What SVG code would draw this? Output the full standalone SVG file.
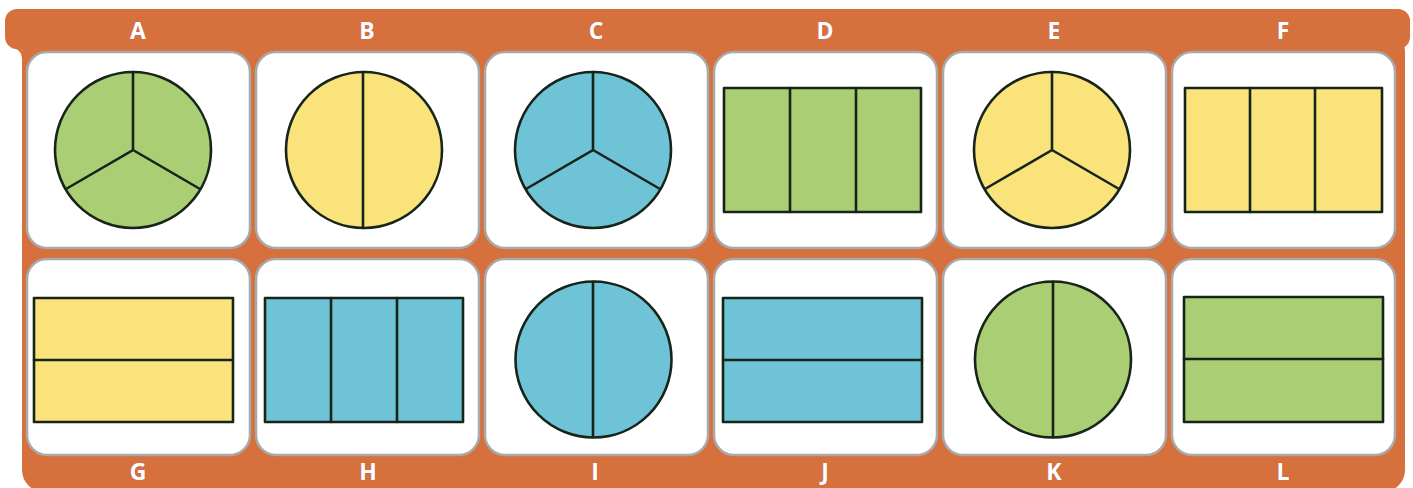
<svg xmlns="http://www.w3.org/2000/svg" width="1413" height="488" viewBox="0 0 1413 488">
<style>
.frame{fill:#D6703D}
.cell{fill:#ffffff;stroke:#a9a9a9;stroke-width:2.5}
.g{fill:#A9CE74}
.y{fill:#F9E37A}
.b{fill:#6FC3D7}
.sh{stroke:#17241a;stroke-width:2.6;stroke-linejoin:round}
.ln{stroke:#17241a;stroke-width:2.6;fill:none;stroke-linecap:round}
.lbl{font-family:"Open Sans","Liberation Sans",sans-serif;font-weight:bold;font-size:23px;fill:#ffffff;text-anchor:middle;stroke:#b06a7a;stroke-width:0.6;paint-order:stroke}
</style>
<rect width="1413" height="488" fill="#ffffff"/>
<g id="frame">
<rect class="frame" x="5" y="9" width="1405" height="40" rx="12"/>
<rect class="frame" x="22" y="30" width="1383" height="462" rx="22"/>
<path class="frame" d="M12,48 L22,48 L22,58 A10 10 0 0 0 12 48 Z"/>
</g>
<g id="A">
<rect class="cell" x="27" y="52" width="223" height="196" rx="20"/>
<circle class="g sh" cx="133" cy="150" r="78"/>
<path class="ln" d="M133,72 V150 L66,189 M133,150 L200,189"/>
<text class="lbl" x="138" y="39">A</text>
</g>
<g id="B">
<rect class="cell" x="256" y="52" width="223" height="196" rx="20"/>
<circle class="y sh" cx="364" cy="150" r="78"/>
<path class="ln" d="M363,72 V228"/>
<text class="lbl" x="367" y="39">B</text>
</g>
<g id="C">
<rect class="cell" x="485" y="52" width="223" height="196" rx="20"/>
<circle class="b sh" cx="593" cy="150" r="78"/>
<path class="ln" d="M593,72 V150 L526,189 M593,150 L660,189"/>
<text class="lbl" x="596" y="39">C</text>
</g>
<g id="D">
<rect class="cell" x="714" y="52" width="223" height="196" rx="20"/>
<rect class="g sh" x="724" y="88" width="197" height="124"/>
<path class="ln" d="M790,88 V212 M856,88 V212"/>
<text class="lbl" x="825" y="39">D</text>
</g>
<g id="E">
<rect class="cell" x="943" y="52" width="223" height="196" rx="20"/>
<circle class="y sh" cx="1052" cy="150" r="78"/>
<path class="ln" d="M1052,72 V150 L985,189 M1052,150 L1119,189"/>
<text class="lbl" x="1054" y="39">E</text>
</g>
<g id="F">
<rect class="cell" x="1172" y="52" width="223" height="196" rx="20"/>
<rect class="y sh" x="1185" y="88" width="197" height="124"/>
<path class="ln" d="M1250,88 V212 M1315,88 V212"/>
<text class="lbl" x="1283" y="39">F</text>
</g>
<g id="G">
<rect class="cell" x="27" y="259" width="223" height="196" rx="20"/>
<rect class="y sh" x="34" y="298" width="199" height="124"/>
<path class="ln" d="M34,360 H233"/>
<text class="lbl" x="138" y="480">G</text>
</g>
<g id="H">
<rect class="cell" x="256" y="259" width="223" height="196" rx="20"/>
<rect class="b sh" x="265" y="298" width="198" height="124"/>
<path class="ln" d="M331,298 V422 M397,298 V422"/>
<text class="lbl" x="368" y="480">H</text>
</g>
<g id="I">
<rect class="cell" x="485" y="259" width="223" height="196" rx="20"/>
<circle class="b sh" cx="593.5" cy="359.5" r="78"/>
<path class="ln" d="M593,282 V437"/>
<text class="lbl" x="595" y="480">I</text>
</g>
<g id="J">
<rect class="cell" x="714" y="259" width="223" height="196" rx="20"/>
<rect class="b sh" x="723" y="298" width="199" height="124"/>
<path class="ln" d="M723,360 H922"/>
<text class="lbl" x="825" y="480">J</text>
</g>
<g id="K">
<rect class="cell" x="943" y="259" width="223" height="196" rx="20"/>
<circle class="g sh" cx="1053" cy="359.5" r="78"/>
<path class="ln" d="M1053,282 V437"/>
<text class="lbl" x="1054" y="480">K</text>
</g>
<g id="L">
<rect class="cell" x="1172" y="259" width="223" height="196" rx="20"/>
<rect class="g sh" x="1184" y="297" width="199" height="125"/>
<path class="ln" d="M1184,359 H1383"/>
<text class="lbl" x="1283" y="480">L</text>
</g>
<g id="connectors"/>
</svg>
